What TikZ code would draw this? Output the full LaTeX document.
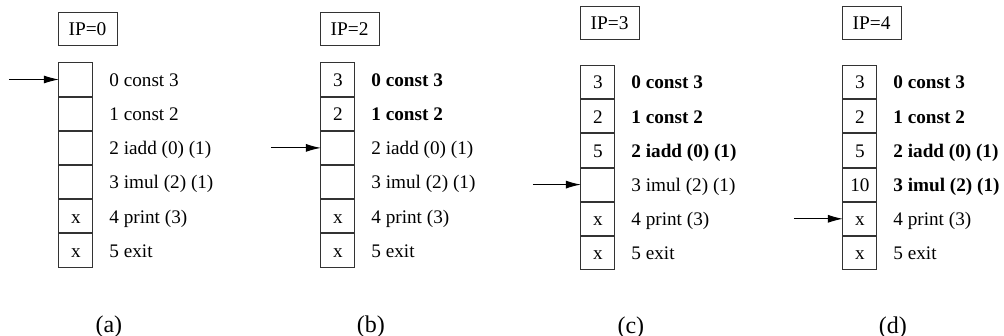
\documentclass[tikz,border=0pt]{standalone}
\usepackage{fontspec}
\setmainfont{Liberation Serif}
\usetikzlibrary{matrix,positioning,arrows.meta,calc}

\begin{document}
\begin{tikzpicture}[
x=0.5pt, y=-0.5pt,
stack/.style={
  matrix of nodes,
  nodes in empty cells,
  anchor=north west,
  inner sep=0pt,
  column sep=8pt,
  row sep=0pt,
  column 1/.style={nodes={cell}},
  column 2/.style={nodes={instr}}
  },
cell/.style={
  draw=black!80,
  line width=0.5pt,
  minimum width=17pt,
  minimum height=16.6pt,
  inner sep=0pt,
  outer sep=0pt,
  anchor=center,
  text height=1.8ex,
  text depth=0.3ex,
  font=\fontsize{9.6}{11}\selectfont
  },
instr/.style={
  anchor=west,
  inner sep=0pt,
  text height=1.8ex,
  text depth=0.3ex,
  font=\fontsize{9.6}{11}\selectfont
  },
done/.style={
  font=\fontsize{9.6}{11}\selectfont\bfseries
  },
ipbox/.style={
  draw=black!80,
  line width=0.5pt,
  minimum width=29.5pt,
  minimum height=16.6pt,
  inner sep=0pt,
  outer sep=0pt,
  font=\fontsize{9.7}{11}\selectfont
  },
tag/.style={
  font=\fontsize{12}{14}\selectfont
  },
ptr/.style={
  line width=0.5pt,
  -{Latex[length=7.5pt,width=4pt]}
  }
]
\useasboundingbox (0,0) rectangle (1004,336);

% (a) nothing executed yet
\matrix[stack] (ma) at (58,62)
{
  & 0 const 3 \\
  & 1 const 2 \\
  & 2 iadd (0) (1) \\
  & 3 imul (2) (1) \\
x & 4 print (3) \\
x & 5 exit \\
};
\node[ipbox, above right=8.3pt and 0pt of ma.north west] (ipa) {IP=0};
\coordinate[left=25pt of ma-1-1] (pa);
\draw[ptr] (pa) -- (ma-1-1);
\node[tag] (la) at ($(ma-6-1.south east)+(16,60)$) {(a)};

% (b) both constants loaded
\matrix[stack] (mb) at (320,62)
{
3 & |[done]| 0 const 3 \\
2 & |[done]| 1 const 2 \\
  & 2 iadd (0) (1) \\
  & 3 imul (2) (1) \\
x & 4 print (3) \\
x & 5 exit \\
};
\node[ipbox, above right=8.3pt and 0pt of mb.north west] (ipb) {IP=2};
\coordinate[left=25pt of mb-3-1] (pb);
\draw[ptr] (pb) -- (mb-3-1);
\node[tag] (lb) at ($(mb-6-1.south east)+(16,60)$) {(b)};

% (c) after the add
\matrix[stack] (mc) at (580,64.5)
{
3 & |[done]| 0 const 3 \\
2 & |[done]| 1 const 2 \\
5 & |[done]| 2 iadd (0) (1) \\
  & 3 imul (2) (1) \\
x & 4 print (3) \\
x & 5 exit \\
};
\node[ipbox, above right=12.5pt and 0pt of mc.north west] (ipc) {IP=3};
\coordinate[left=24pt of mc-4-1] (pc);
\draw[ptr] (pc) -- (mc-4-1);
\node[tag] (lc) at ($(mc-6-1.south east)+(16,58)$) {(c)};

% (d) after the multiply
\matrix[stack] (md) at (842,64.5)
{
3  & |[done]| 0 const 3 \\
2  & |[done]| 1 const 2 \\
5  & |[done]| 2 iadd (0) (1) \\
10 & |[done]| 3 imul (2) (1) \\
x  & 4 print (3) \\
x  & 5 exit \\
};
\node[ipbox, above right=12.5pt and 0pt of md.north west] (ipd) {IP=4};
\coordinate[left=24.5pt of md-5-1] (pd);
\draw[ptr] (pd) -- (md-5-1);
\node[tag] (ld) at ($(md-6-1.south east)+(16,58)$) {(d)};
\end{tikzpicture}
\end{document}
